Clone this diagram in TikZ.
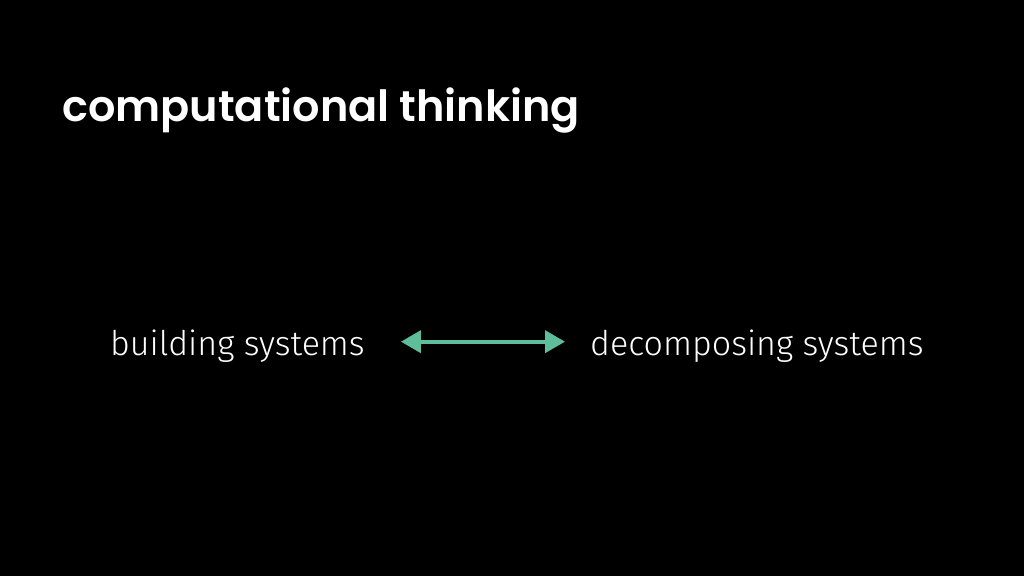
\documentclass[tikz,border=0pt]{standalone}
\usepackage{fontspec}
\setmainfont{Fira Sans Light}
\newfontfamily\titlefont{Poppins SemiBold}
\usepackage{tikz}
\usetikzlibrary{arrows.meta}
\definecolor{mint}{RGB}{94,190,155}

\begin{document}
\begin{tikzpicture}[x=1pt,y=-1pt,
		label/.style={text=white,font=\fontsize{34}{40}\selectfont,inner sep=0pt,anchor=base west},
		twoway/.style={mint,line width=4pt,{Triangle[length=20pt,width=22pt]}-{Triangle[length=20pt,width=22pt]}}]
		\fill[black] (0,0) rectangle (1024,576);
		\node[text=white,font=\titlefont\fontsize{43}{50}\selectfont,inner sep=0pt,anchor=base west] (title) at (62,121) {computational thinking};
		\node[label] (build) at (110,355) {building systems};
		\node[label] (decomp) at (590,355) {decomposing systems};
		\draw[twoway,shorten <=36pt,shorten >=25pt] ([yshift=4pt]build.east)--([yshift=4pt]decomp.west);
	\end{tikzpicture}
\end{document}
